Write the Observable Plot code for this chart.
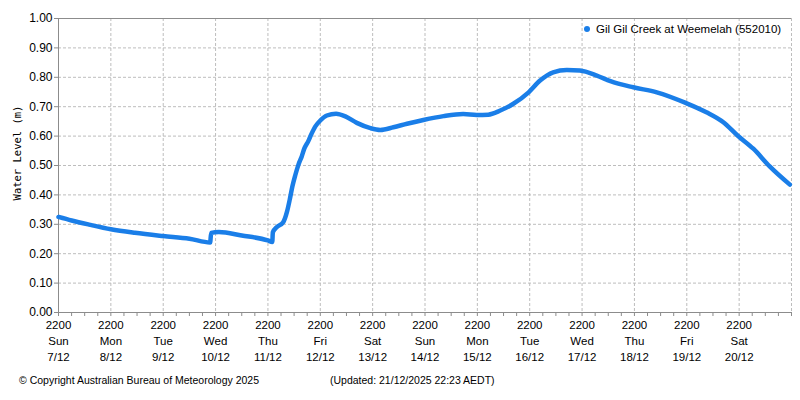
<!DOCTYPE html>
<html>
<head>
<meta charset="utf-8">
<script src="https://cdn.jsdelivr.net/npm/d3@7"></script>
<script src="https://cdn.jsdelivr.net/npm/@observablehq/plot@0.6"></script>
<style>
  html, body { margin: 0; padding: 0; background: #fff; }
  #wrap { position: relative; width: 800px; height: 400px; font-family: "Liberation Sans", Arial, sans-serif; }
  #legend { position: absolute; top: 23px; left: 584px; font-size: 11.5px; color: #000; white-space: nowrap; }
  #legend .dot { display: inline-block; width: 6px; height: 6px; border-radius: 50%; background: #1a7ee8; margin-right: 6px; vertical-align: 1px; }
  .foot { position: absolute; top: 374px; font-size: 10.5px; color: #000; white-space: nowrap; }
  #ylabel { position: absolute; left: 17px; top: 153px; transform: translate(-50%, -50%) rotate(-90deg); font-family: "DejaVu Sans Mono", monospace; font-size: 10.5px; white-space: nowrap; color: #000; }
</style>
</head>
<body>
<div id="wrap">
  <div id="chart"></div>
  <div id="ylabel"></div>
  <div id="legend"><span class="dot"></span><span id="legendText"></span></div>
  <div class="foot" style="left:19px">© Copyright Australian Bureau of Meteorology 2025</div>
  <div class="foot" style="left:330px">(Updated: 21/12/2025 22:23 AEDT)</div>
</div>
<script>
// Water level readings (times in local AEDT, stored as UTC-naive)
const times = [
  "2025-12-07T22:00","2025-12-08T04:00","2025-12-08T12:00","2025-12-08T22:00",
  "2025-12-09T09:00","2025-12-09T22:00","2025-12-10T10:00","2025-12-10T19:30",
  "2025-12-10T20:00","2025-12-10T23:30","2025-12-11T10:00","2025-12-11T22:00",
  "2025-12-12T00:00","2025-12-12T00:15","2025-12-12T02:00","2025-12-12T05:00",
  "2025-12-12T06:45","2025-12-12T08:00","2025-12-12T09:15","2025-12-12T10:30",
  "2025-12-12T12:00","2025-12-12T13:30","2025-12-12T14:45","2025-12-12T16:30",
  "2025-12-12T17:45","2025-12-12T19:45","2025-12-12T22:00","2025-12-13T01:00",
  "2025-12-13T05:15","2025-12-13T09:30","2025-12-13T14:45","2025-12-13T21:00",
  "2025-12-14T01:30","2025-12-14T07:30","2025-12-14T13:45","2025-12-14T21:15",
  "2025-12-15T06:30","2025-12-15T15:30","2025-12-15T21:45","2025-12-16T03:00",
  "2025-12-16T08:30","2025-12-16T14:30","2025-12-16T21:30","2025-12-17T02:45",
  "2025-12-17T08:45","2025-12-17T15:00","2025-12-17T21:00","2025-12-18T04:45",
  "2025-12-18T11:00","2025-12-18T21:30","2025-12-19T08:15","2025-12-19T21:30",
  "2025-12-20T07:00","2025-12-20T14:45","2025-12-20T21:15","2025-12-21T04:30",
  "2025-12-21T12:00","2025-12-21T21:15"
];
const levels = [
  0.325,0.313,0.299,0.283,
  0.271,0.260,0.251,0.238,
  0.271,0.274,0.262,0.245,
  0.240,0.273,0.290,0.307,
  0.343,0.384,0.430,0.466,
  0.503,0.531,0.559,0.583,
  0.604,0.633,0.653,0.670,
  0.676,0.667,0.645,0.627,
  0.621,0.630,0.642,0.655,
  0.668,0.675,0.672,0.673,
  0.687,0.710,0.749,0.789,
  0.817,0.825,0.823,0.806,
  0.787,0.766,0.749,0.713,
  0.681,0.647,0.602,0.557,
  0.497,0.435
];
const startTime = "2025-12-07T22:00";
const endTime = "2025-12-21T22:00";
const yTicks = [0,0.1,0.2,0.3,0.4,0.5,0.6,0.7,0.8,0.9,1.0];
const tickHourLabel = "2200";
const seriesName = "Gil Gil Creek at Weemelah (552010)";
const yTitle = "Water Level (m)";

document.getElementById("legendText").textContent = seriesName;
document.getElementById("ylabel").textContent = yTitle;

const parse = s => new Date(s + ":00Z");
const data = times.map((t, i) => ({date: parse(t), level: levels[i]}));
const start = parse(startTime), end = parse(endTime);
const majorTicks = d3.utcHours(start, end, 24);
const minorTicks = d3.utcHours(start, d3.utcMinute.offset(end, 1), 6);
const fmt = d => `${tickHourLabel}\n${d3.utcFormat("%a")(d)}\n${d.getUTCDate()}/${d.getUTCMonth() + 1}`;

const grey = "#8c8c8c";
const gridStyle = {stroke: "#bdbdbd", strokeOpacity: 1, strokeDasharray: "3,2"};

const chart = Plot.plot({
  width: 800,
  height: 368,
  marginTop: 18,
  marginBottom: 56,
  marginLeft: 58,
  marginRight: 9,
  style: {fontFamily: "Liberation Sans, Arial, sans-serif", fontSize: "12px", color: "#000", background: "#fff"},
  x: {type: "utc", domain: [start, end]},
  y: {domain: [0, 1]},
  marks: [
    Plot.gridY(yTicks, gridStyle),
    Plot.gridX(majorTicks, gridStyle),
    Plot.ruleX([end], gridStyle),
    Plot.ruleY([1], {stroke: grey}),
    Plot.ruleY([0], {stroke: grey}),
    Plot.ruleX([start], {stroke: grey}),
    Plot.axisY({ticks: yTicks, tickSize: 4, tickPadding: 2, tickFormat: ".2f", stroke: grey, color: "#000", fontSize: 12, label: null}),
    Plot.axisX({ticks: minorTicks, tickSize: 4, tickFormat: () => "", stroke: grey, label: null}),
    Plot.axisX({ticks: majorTicks, tickSize: 0, tickPadding: 5, tickFormat: fmt, fontSize: 11.5, lineHeight: 1.4, label: null}),
    Plot.line(data, {x: "date", y: "level", stroke: "#1a7ee8", strokeWidth: 4.5, curve: "monotone-x"})
  ]
});
document.getElementById("chart").appendChild(chart);
</script>
</body>
</html>
